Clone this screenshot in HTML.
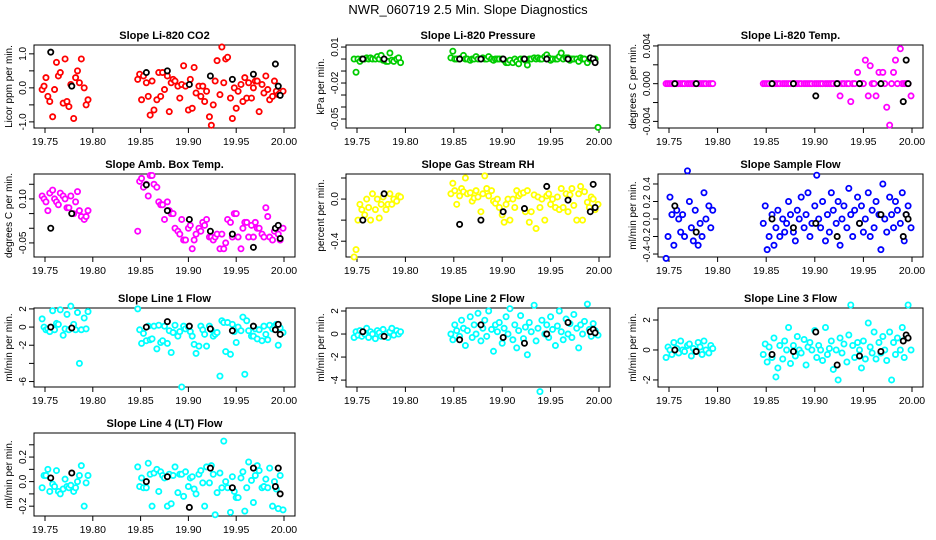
<!DOCTYPE html>
<html><head><meta charset="utf-8"><style>
html,body{margin:0;padding:0;background:#fff;}
svg{display:block;font-family:"Liberation Sans",sans-serif;}
</style></head><body>
<svg id="chart" width="936" height="540" viewBox="0 0 936 540">
<text x="468" y="14" text-anchor="middle" font-size="13">NWR_060719  2.5 Min. Slope Diagnostics</text>
</svg>
<script>
const times = [19.747,19.749,19.751,19.753,19.755,19.758,19.760,19.762,19.764,19.766,19.769,19.771,19.773,19.775,19.777,19.780,19.782,19.784,19.786,19.788,19.791,19.793,19.795,
19.847,19.849,19.851,19.853,19.856,19.858,19.860,19.862,19.864,19.867,19.869,19.871,19.873,19.875,19.878,19.880,19.882,19.884,19.886,19.889,19.891,19.893,19.895,19.897,19.900,19.902,19.904,19.906,19.908,19.911,19.913,19.915,19.917,19.919,19.922,19.924,19.926,19.928,19.930,19.933,19.935,19.937,19.939,19.941,19.944,19.946,19.948,19.950,19.952,19.955,19.957,19.959,19.961,19.963,19.966,19.968,19.970,19.972,19.974,19.977,19.979,19.981,19.983,19.985,19.988,19.990,19.992,19.994,19.996,19.999];
const blackTimes = [19.756,19.778,19.856,19.878,19.901,19.923,19.946,19.968,19.991,19.994,19.996];
const xTicks = [19.75,19.80,19.85,19.90,19.95,20.00];
const xTickLabels = ["19.75","19.80","19.85","19.90","19.95","20.00"];

const co2Vals = [-0.05,0.05,0.3,-0.25,-0.4,-0.85,-0.05,0.75,0.35,0.45,-0.45,0.85,-0.4,-0.55,0.1,-0.9,0.3,0.5,0.15,0.85,0.0,-0.5,-0.35,
0.25,0.4,-0.35,0.35,0.15,-0.25,-0.8,0.2,-0.65,-0.35,0.45,-0.25,0.45,-0.05,0.35,-0.7,0.15,0.25,0.2,0.05,-0.3,0.1,0.65,0.05,-0.65,0.25,-0.6,0.6,-0.15,0.05,-0.25,0.05,-0.4,-0.1,-0.85,-1.1,-0.5,0.2,0.8,-0.2,1.2,0.15,0.85,0.9,-0.3,-0.9,0.0,-0.6,-0.1,0.1,-0.4,0.3,-0.3,0.15,-0.3,0.0,0.2,0.2,-0.7,0.1,-0.15,0.35,-0.05,-0.35,-0.25,0.2,-0.1,-0.2,-0.15,-0.1];
const co2Black = [1.05,0.05,0.45,0.5,0.1,0.35,0.25,0.4,0.7,0.05,-0.22];

const presVals = [0,-0.011,0,-0.002,0,0,0.001,0,0.001,0,0,0.002,0,0.003,-0.001,-0.002,-0.002,0.005,-0.001,-0.002,0,0.001,-0.003,
0.001,0.0065,0,0,0,0.001,0.003,0,0,-0.001,0,0,0.002,0,0,0.001,0,0,0.002,0,-0.001,0,0,0,0,-0.001,-0.003,-0.003,-0.001,-0.003,0,-0.002,-0.004,0,0,-0.001,-0.005,0,0,0.001,0,0.001,0,0,0.002,0.0035,0.001,-0.001,0,0,0,0.002,0.005,0,0.001,0.001,-0.001,0,0,0,-0.002,0.001,0,0,-0.003,0,0,0,0,-0.057];
const presBlack = [0,0,0,0,0,0,0,0,0.001,0,-0.003];

const tempVals = [0,0,0,0,0,0,0,0,0,0,0,0,0,0,0,0,0,0,0,0,0,0,0,
0,0,0,0,0,0,0,0,0,0,0,0,0,0,0,0,0,0,0,0,0,0,0,0,0,0,0,0,0,0,0,0,0,0,0,0,-0.0013,0,0,0,0,-0.0019,0,0,0.0012,0,0,0,0.0025,-0.0013,0.0019,0,0,-0.0013,0.0012,0,0.0012,0,-0.0025,-0.0044,0,0.0012,0.0025,0,0.0037,0,0,0,0,-0.0013];
const tempBlack = [0,0,0,0,-0.0013,0,0,0,-0.0019,0.0025,0];

const ambVals = [0.11,0.1,0.09,0.06,0.12,0.13,0.1,0.09,0.08,0.12,0.11,0.1,0.07,0.07,0.11,0.05,0.09,0.125,0.06,0.04,0.03,0.04,0.06,
-0.01,0.16,0.17,0.14,0.15,0.11,0.18,0.18,0.15,0.14,0.09,0.08,0.08,0.03,0.09,0.06,0.05,0.05,0.0,-0.01,-0.02,0.03,-0.04,-0.04,0.0,0.01,-0.07,-0.04,-0.02,0.0,-0.01,0.02,0.01,0.03,-0.03,-0.03,-0.04,-0.03,-0.02,-0.07,-0.02,-0.07,-0.05,0.03,0.02,-0.03,0.05,0.05,-0.03,-0.07,0.0,0.02,0.02,-0.03,0.01,-0.03,0.02,0.0,0.0,-0.02,-0.03,0.07,0.04,-0.03,-0.04,-0.01,0.0,-0.02,-0.04,0.0,-0.01];
const ambBlack = [0.0,0.05,0.148,0.06,0.03,-0.01,-0.02,-0.065,0.0,0.01,-0.035];

const rhVals = [-0.55,-0.48,-0.2,-0.05,-0.1,-0.15,0.0,-0.08,-0.2,0.05,-0.1,0.0,-0.18,-0.05,0.02,-0.1,-0.05,0.05,-0.05,0.0,-0.02,0.03,0.02,
0.05,0.15,0.08,-0.05,0.03,0.1,0.07,0.2,0.05,0.06,-0.02,0.01,0.08,0.02,-0.12,0.05,0.22,0.1,0.03,0.08,-0.02,-0.04,0.0,-0.08,-0.15,-0.22,-0.05,0.0,-0.2,0.0,-0.08,0.08,0.03,0.05,0.06,-0.12,0.08,-0.22,-0.12,0.04,-0.28,0.02,-0.08,0.0,-0.2,0.03,0.05,-0.05,0.0,-0.08,0.02,-0.1,0.1,-0.08,0.05,-0.12,0.04,0.1,-0.06,-0.2,0.05,0.12,-0.2,0.07,-0.03,-0.08,0.02,0.0,-0.1,-0.05];
const rhBlack = [-0.2,0.05,-0.24,-0.2,-0.12,-0.09,0.12,-0.01,-0.12,0.14,-0.08];

const sampVals = [-0.45,-0.2,0.25,0.05,-0.3,0.1,0.0,-0.15,0.05,-0.2,0.55,0.2,-0.1,-0.25,0.1,-0.3,-0.05,-0.2,0.3,0.0,0.15,-0.1,0.1,
-0.05,0.15,-0.35,-0.2,0.05,-0.3,-0.1,0.1,-0.2,0.0,-0.15,-0.05,0.2,0.05,-0.15,-0.25,0.1,0.0,0.25,-0.1,0.05,0.3,-0.2,-0.05,0.15,0.5,0.0,-0.1,0.2,-0.25,0.05,-0.15,0.3,0.1,-0.05,0.2,-0.3,0.0,0.15,-0.1,0.35,0.05,-0.2,0.1,0.25,-0.05,0.15,-0.15,0.0,0.3,-0.2,0.1,-0.1,0.2,0.05,-0.35,0.4,0.0,-0.15,0.25,0.05,-0.1,0.2,0.1,-0.05,0.3,-0.25,0.05,0.15,-0.1];
const sampBlack = [0.15,-0.15,0.0,-0.1,-0.05,-0.2,-0.05,0.05,-0.2,0.05,0.0];

const line1Vals = [0.9,0.0,-0.3,-0.2,-0.5,1.8,-0.3,0.4,0.3,1.9,-0.9,-0.2,1.4,-0.3,2.3,0.3,-0.3,1.6,-4.0,-0.3,1.0,-0.2,1.7,
2.0,-0.3,-1.8,-0.7,-1.5,0.1,-1.4,-1.3,0.1,-2.4,0.2,-1.7,-1.5,0.1,-1.8,-0.4,-2.8,-0.6,0.2,-1.0,-0.5,-6.6,0.1,-0.2,0.0,-0.5,-1.0,-1.9,-2.9,-2.1,0.1,-0.3,-0.8,-2.1,0.1,-0.3,-1.0,-0.8,-0.6,-5.4,0.7,0.5,-2.7,0.5,-3.0,0.3,-0.5,-1.7,0.0,-0.4,1.1,-5.2,0.7,-0.4,-1.0,-1.0,-0.2,-1.3,-0.3,-1.5,0.1,-0.8,-1.4,0.2,-0.2,0.1,0.3,-2.0,-0.1,-0.6];
const line1Black = [0.0,-0.1,0.0,0.6,0.1,-0.2,-0.4,0.1,-0.3,0.3,-0.8];

const line2Vals = [-0.3,0.2,-0.1,0.3,-0.2,0.0,0.5,-0.3,0.2,0.0,-0.4,0.3,0.1,-0.2,0.4,0.0,-0.3,0.2,0.5,-0.1,0.3,0.0,0.2,
0.0,-0.5,0.8,0.3,-0.2,1.2,0.5,-1.0,0.3,1.5,-0.3,0.8,0.0,1.8,-0.6,0.5,1.2,-0.2,2.0,0.4,-1.5,0.8,0.2,1.0,-0.8,0.5,1.5,0.0,2.2,-0.5,0.8,-1.2,0.3,1.6,-0.4,0.6,-1.8,1.0,0.2,2.5,-0.6,0.5,-5.0,1.2,0.0,0.8,-0.3,1.5,0.4,-1.0,0.7,2.0,0.2,-0.5,1.3,0.0,0.9,-0.3,1.7,0.5,-1.2,0.8,0.0,1.1,2.6,0.4,-0.2,0.9,0.3,-0.1];
const line2Black = [0.2,-0.2,-0.5,0.8,-0.3,-0.8,0.0,1.0,0.2,0.4,0.1];

const line3Vals = [-0.5,0.2,0.0,-0.3,0.5,0.1,-0.2,0.6,0.0,-0.1,0.3,0.4,-0.4,0.1,-0.1,0.5,0.2,-0.3,0.6,0.0,-0.2,0.3,0.1,
-0.3,0.4,-0.8,0.2,-0.5,0.8,-1.8,-1.2,0.3,-0.6,0.6,0.0,1.5,-0.9,0.3,-0.4,0.9,0.0,-0.2,0.7,-1.0,0.2,0.5,0.0,1.3,-0.5,0.3,0.0,-0.7,1.5,-0.3,0.1,0.6,-1.3,0.0,-2.0,0.8,-0.2,0.4,-0.8,1.0,3.0,0.3,-0.5,0.5,0.0,-1.2,0.6,-0.6,1.8,0.2,-0.2,1.2,-0.6,0.5,-0.2,0.9,0.0,-0.7,1.2,-2.0,0.5,-0.3,0.8,0.0,1.5,-0.5,0.8,3.0,0.0];
const line3Black = [0.0,-0.1,-0.3,-0.1,1.2,-1.0,-0.4,-0.1,0.6,1.0,0.8];

const line4Vals = [-0.05,0.05,0.05,0.1,-0.08,-0.02,-0.04,0.09,-0.08,-0.1,-0.06,0.02,-0.04,-0.05,-0.03,-0.08,-0.05,0.0,0.05,0.13,-0.2,-0.01,0.05,
0.12,-0.04,0.03,-0.05,-0.05,0.15,0.06,-0.2,0.07,0.1,-0.08,0.08,0.05,0.03,-0.2,0.06,-0.18,0.05,0.12,-0.09,0.06,0.06,-0.12,0.08,-0.04,0.03,0.04,-0.06,-0.1,0.06,0.09,-0.01,-0.2,0.12,-0.01,0.13,0.06,-0.27,-0.09,0.07,-0.05,0.33,0.0,-0.05,-0.25,0.04,-0.08,-0.13,-0.13,0.03,0.08,-0.24,-0.05,0.16,0.01,-0.17,0.05,0.13,0.09,-0.05,-0.04,0.02,-0.05,0.11,-0.2,0.0,-0.06,-0.22,0.05,-0.23];
const line4Black = [0.03,0.07,0.0,0.04,-0.21,0.11,-0.05,0.11,-0.04,0.11,-0.1];

const panels = [
 {name:"co2", title:"Slope Li-820 CO2", ylab:"Licor ppm per min.", col:0,row:0, color:"#ff0000", vals:co2Vals, black:co2Black, ymax:1.26, ymin:-1.18, ticks:[-1,-0.5,0,0.5,1], labels:{"-1":"-1.0","0":"0.0","1":"1.0"}},
 {name:"pressure", title:"Slope Li-820 Pressure", ylab:"kPa per min.", col:1,row:0, color:"#00cc00", vals:presVals, black:presBlack, ymax:0.0117, ymin:-0.0575, ticks:[0.01,0,-0.01,-0.02,-0.03,-0.04,-0.05], labels:{"0.01":"0.01","-0.02":"-0.02","-0.05":"-0.05"}},
 {name:"li820-temp", title:"Slope Li-820 Temp.", ylab:"degrees C per min.", col:2,row:0, color:"#ff00ff", vals:tempVals, black:tempBlack, ymax:0.0041, ymin:-0.0047, ticks:[0.004,0.002,0,-0.002,-0.004], labels:{"0.004":"0.004","0":"0.000","-0.004":"-0.004"}},
 {name:"amb-box-temp", title:"Slope Amb. Box Temp.", ylab:"degrees C per min.", col:0,row:1, color:"#ff00ff", vals:ambVals, black:ambBlack, ymax:0.185, ymin:-0.098, ticks:[0.15,0.1,0.05,0,-0.05], labels:{"0.1":"0.10","-0.05":"-0.05"}},
 {name:"gas-stream-rh", title:"Slope Gas Stream RH", ylab:"percent per min.", col:1,row:1, color:"#ffff00", vals:rhVals, black:rhBlack, ymax:0.238, ymin:-0.55, ticks:[0.2,0,-0.2,-0.4], labels:{"0":"0.0","-0.4":"-0.4"}},
 {name:"sample-flow", title:"Slope Sample Flow", ylab:"ml/min per min.", col:2,row:1, color:"#0000ff", vals:sampVals, black:sampBlack, ymax:0.514, ymin:-0.434, ticks:[0.4,0.2,0,-0.2,-0.4], labels:{"0.4":"0.4","0.2":"0.2","0":"0.0","-0.2":"-0.2","-0.4":"-0.4"}},
 {name:"line1-flow", title:"Slope Line 1 Flow", ylab:"ml/min per min.", col:0,row:2, color:"#00ffff", vals:line1Vals, black:line1Black, ymax:2.1, ymin:-6.6, ticks:[2,0,-2,-4,-6], labels:{"2":"2","0":"0","-2":"-2","-6":"-6"}},
 {name:"line2-flow", title:"Slope Line 2 Flow", ylab:"ml/min per min.", col:1,row:2, color:"#00ffff", vals:line2Vals, black:line2Black, ymax:2.26, ymin:-4.6, ticks:[2,0,-2,-4], labels:{"2":"2","0":"0","-2":"-2","-4":"-4"}},
 {name:"line3-flow", title:"Slope Line 3 Flow", ylab:"ml/min per min.", col:2,row:2, color:"#00ffff", vals:line3Vals, black:line3Black, ymax:2.8, ymin:-2.47, ticks:[2,0,-2], labels:{"2":"2","0":"0","-2":"-2"}},
 {name:"line4-flow", title:"Slope Line 4 (LT) Flow", ylab:"ml/min per min.", col:0,row:3, color:"#00ffff", vals:line4Vals, black:line4Black, ymax:0.396, ymin:-0.28, ticks:[0.3,0.2,0.1,0,-0.1,-0.2], labels:{"0.2":"0.2","0":"0.0","-0.2":"-0.2"}}
];
const colLeft=[34,346,658], colRight=[295,610,923];
const rowTop=[45,174,308,433], rowBot=[128,257,387,516];
const NS="http://www.w3.org/2000/svg";
const svg=document.getElementById('chart');
function mk(tag,attrs,parent){const e=document.createElementNS(NS,tag);for(const k in attrs)e.setAttribute(k,attrs[k]);(parent||svg).appendChild(e);return e;}
panels.forEach(p=>{
 const L=colLeft[p.col],R=colRight[p.col],T=rowTop[p.row],B=rowBot[p.row];
 const g=mk('g',{});
 
 
 const xs=v=>L+11+(v-19.75)*(R-L-22)/0.25;
 const ys=v=>T+(p.ymax-v)/(p.ymax-p.ymin)*(B-T);
 const t=mk('text',{x:(L+R)/2,y:T-6,'text-anchor':'middle','font-size':11,'font-weight':'bold'},g);
 t.textContent=p.title;
 
 
 const box=mk('rect',{x:L,y:T,width:R-L,height:B-T,fill:'none',stroke:'#000','stroke-width':1},g);
 
 
 xTicks.forEach((v,i)=>{
  const x=xs(v);
  mk('line',{x1:x,x2:x,y1:B,y2:B+5,stroke:'#000'},g);
  const tl=mk('text',{x:x,y:B+17,'text-anchor':'middle','font-size':10.5},g);
  tl.textContent=xTickLabels[i];
  
  
 });
 p.ticks.forEach(v=>{
  const y=ys(v);
  mk('line',{x1:L-5,x2:L,y1:y,y2:y,stroke:'#000'},g);
  const lab=p.labels[String(v)];
  if(lab){
   const tl=mk('text',{x:L-8,y:y,'text-anchor':'middle','font-size':10,transform:`rotate(-90 ${L-8} ${y})`},g);
   tl.textContent=lab;
   
   
  }
 });
 const yl=mk('text',{x:L-22,y:(T+B)/2,'text-anchor':'middle','font-size':10,transform:`rotate(-90 ${L-22} ${(T+B)/2})`},g);
 yl.textContent=p.ylab;
 
 
 const n=Math.min(times.length,p.vals.length);
 for(let i=0;i<n;i++){
  const c=mk('circle',{cx:xs(times[i]),cy:ys(p.vals[i]),r:2.6,fill:'#fff',stroke:p.color,'stroke-width':1.8},g);
  
  
 }
 const m=Math.min(blackTimes.length,p.black.length);
 for(let i=0;i<m;i++){
  const c=mk('circle',{cx:xs(blackTimes[i]),cy:ys(p.black[i]),r:2.6,fill:'#fff',stroke:'#000','stroke-width':1.8},g);
  
  
 }
});
</script>
</body></html>
